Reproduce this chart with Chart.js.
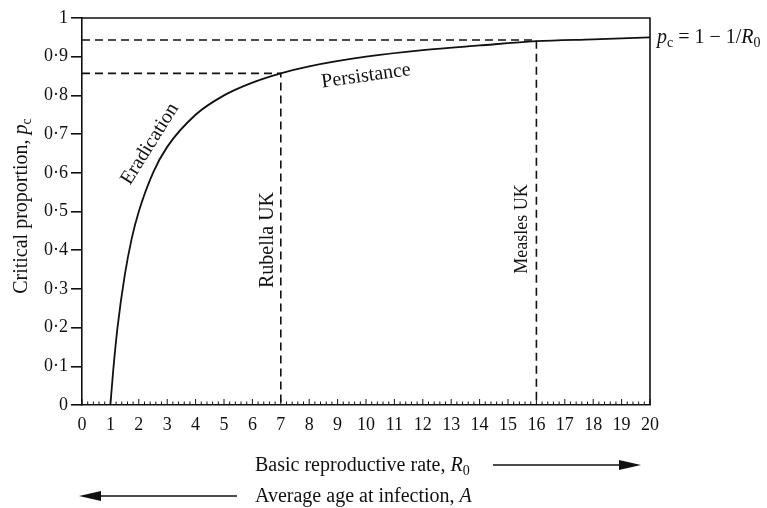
<!DOCTYPE html>
<html>
<head>
<meta charset="utf-8">
<script src="https://cdn.jsdelivr.net/npm/chart.js@4/dist/chart.umd.min.js"></script>
<style>
  body { margin: 0; background: #fff; }
  #wrap { width: 767px; height: 508px; position: relative; }
</style>
</head>
<body>
<div id="wrap"><canvas id="grafico"></canvas></div>
<script>
// valores
const r0Valores = [1, 1.1, 1.25, 1.5, 1.75, 2, 2.5, 3, 4, 5, 6, 7, 8, 10, 12, 14, 16, 18, 20];
const pcValores = [0, 0.09, 0.2, 0.333, 0.43, 0.5, 0.6, 0.667, 0.75, 0.8, 0.833, 0.857, 0.875, 0.9, 0.917, 0.929, 0.94, 0.945, 0.95];
const rubellaX = [0, 7, 7];
const rubellaY = [0.857, 0.857, 0];
const measlesX = [0, 16, 16];
const measlesY = [0.943, 0.943, 0];
const xTicks = [0, 20];
const yTicks = [0, 1];

const serif = '"Liberation Serif", "DejaVu Serif", serif';

function puntos(xs, ys) {
    let res = [];
    for (let i = 0; i < xs.length; i++) {
        res.push({x: xs[i], y: ys[i]});
    }
    return res;
}

// dibuja texto con trozos en cursiva / subindice
function textoRico(ctx, partes, x, y, size, align) {
    let ancho = 0;
    for (let p of partes) {
        ctx.font = (p.it ? 'italic ' : '') + (p.sub ? size * 0.7 : size) + 'px ' + serif;
        p.w = ctx.measureText(p.t).width;
        ancho += p.w;
    }
    let cx = x;
    if (align === 'center') cx = x - ancho / 2;
    ctx.textAlign = 'left';
    ctx.textBaseline = 'alphabetic';
    for (let p of partes) {
        ctx.font = (p.it ? 'italic ' : '') + (p.sub ? size * 0.7 : size) + 'px ' + serif;
        ctx.fillText(p.t, cx, y + (p.sub ? size * 0.22 : 0));
        cx += p.w;
    }
    return ancho;
}

function flecha(ctx, x1, x2, y) {
    let d = x2 > x1 ? 1 : -1;
    ctx.beginPath();
    ctx.moveTo(x1, y);
    ctx.lineTo(x2 - d * 10, y);
    ctx.lineWidth = 1.5;
    ctx.stroke();
    ctx.beginPath();
    ctx.moveTo(x2, y);
    ctx.lineTo(x2 - d * 22, y - 5);
    ctx.lineTo(x2 - d * 22, y + 5);
    ctx.closePath();
    ctx.fill();
}

const extras = {
    id: 'extras',
    afterDraw(chart) {
        const ctx = chart.ctx;
        const a = chart.chartArea;
        const sx = chart.scales.x;
        ctx.save();
        ctx.strokeStyle = '#111';
        ctx.fillStyle = '#111';

        // marco superior y derecho
        ctx.lineWidth = 1.6;
        ctx.beginPath();
        ctx.moveTo(a.left, a.top);
        ctx.lineTo(a.right, a.top);
        ctx.lineTo(a.right, a.bottom);
        ctx.stroke();

        // marcas menores del eje x hacia dentro
        ctx.lineWidth = 1;
        for (let i = 0; i <= 100; i++) {
            let px = sx.getPixelForValue(i * 0.2);
            let largo = (i % 5 === 0) ? 6 : 3.5;
            ctx.beginPath();
            ctx.moveTo(px, a.bottom);
            ctx.lineTo(px, a.bottom - largo);
            ctx.stroke();
        }

        // titulo eje y
        ctx.save();
        ctx.translate(27, 206);
        ctx.rotate(-Math.PI / 2);
        textoRico(ctx, [{t: 'Critical proportion, '}, {t: 'p', it: true}, {t: 'c', sub: true}], 0, 0, 20, 'center');
        ctx.restore();

        // titulo eje x y flechas
        textoRico(ctx, [{t: 'Basic reproductive rate, '}, {t: 'R', it: true}, {t: '0', sub: true}], 255, 471, 20, 'left');
        flecha(ctx, 493, 641, 465);
        textoRico(ctx, [{t: 'Average age at infection, '}, {t: 'A', it: true}], 255, 502, 20, 'left');
        flecha(ctx, 237, 79, 496);

        // etiqueta de la curva
        textoRico(ctx, [{t: 'p', it: true}, {t: 'c', sub: true}, {t: ' = 1 \u2212 1/'}, {t: 'R', it: true}, {t: '0', sub: true}], 657, 43, 20, 'left');

        // textos girados
        const girado = (txt, x, y, ang, size) => {
            ctx.save();
            ctx.translate(x, y);
            ctx.rotate(ang * Math.PI / 180);
            ctx.font = size + 'px ' + serif;
            ctx.textAlign = 'center';
            ctx.textBaseline = 'middle';
            ctx.fillText(txt, 0, 0);
            ctx.restore();
        };
        girado('Eradication', 150, 144, -58, 20);
        girado('Persistance', 366, 76, -8, 20);
        girado('Rubella UK', 268, 240, -90, 20);
        girado('Measles UK', 522, 229, -90, 18);
        ctx.restore();
    }
};

const lineaDiscontinua = {
    showLine: true,
    borderColor: '#111',
    borderWidth: 1.6,
    borderDash: [8, 5],
    pointRadius: 0,
    fill: false
};

new Chart(document.getElementById('grafico'), {
    type: 'scatter',
    data: {
        datasets: [
            {
                label: 'pc',
                data: puntos(r0Valores, pcValores),
                showLine: true,
                borderColor: '#111',
                borderWidth: 1.8,
                pointRadius: 0,
                cubicInterpolationMode: 'monotone'
            },
            Object.assign({label: 'Rubella UK', data: puntos(rubellaX, rubellaY)}, lineaDiscontinua),
            Object.assign({label: 'Measles UK', data: puntos(measlesX, measlesY)}, lineaDiscontinua)
        ]
    },
    options: {
        responsive: true,
        maintainAspectRatio: false,
        animation: false,
        layout: {padding: {top: 18, right: 117, left: 0, bottom: 0}},
        plugins: {legend: {display: false}, tooltip: {enabled: false}},
        scales: {
            x: {
                type: 'linear',
                min: xTicks[0],
                max: xTicks[1],
                ticks: {
                    stepSize: 1,
                    color: '#111',
                    padding: 9,
                    maxRotation: 0,
                    autoSkip: false,
                    font: {family: serif, size: 18}
                },
                grid: {display: false, drawTicks: false},
                border: {display: true, color: '#111', width: 1.6},
                afterFit(scale) { scale.height = 103; }
            },
            y: {
                type: 'linear',
                min: yTicks[0],
                max: yTicks[1],
                ticks: {
                    stepSize: 0.1,
                    color: '#111',
                    padding: 3,
                    font: {family: serif, size: 18},
                    callback: function (v) {
                        if (Math.abs(v) < 1e-9) return '0';
                        if (Math.abs(v - 1) < 1e-9) return '1';
                        return v.toFixed(1).replace('.', '\u00b7');
                    }
                },
                grid: {drawOnChartArea: false, drawTicks: true, tickLength: 11, color: '#111', lineWidth: 1.6},
                border: {display: true, color: '#111', width: 1.6},
                afterFit(scale) { scale.width = 82; }
            }
        }
    },
    plugins: [extras]
});
</script>
</body>
</html>
